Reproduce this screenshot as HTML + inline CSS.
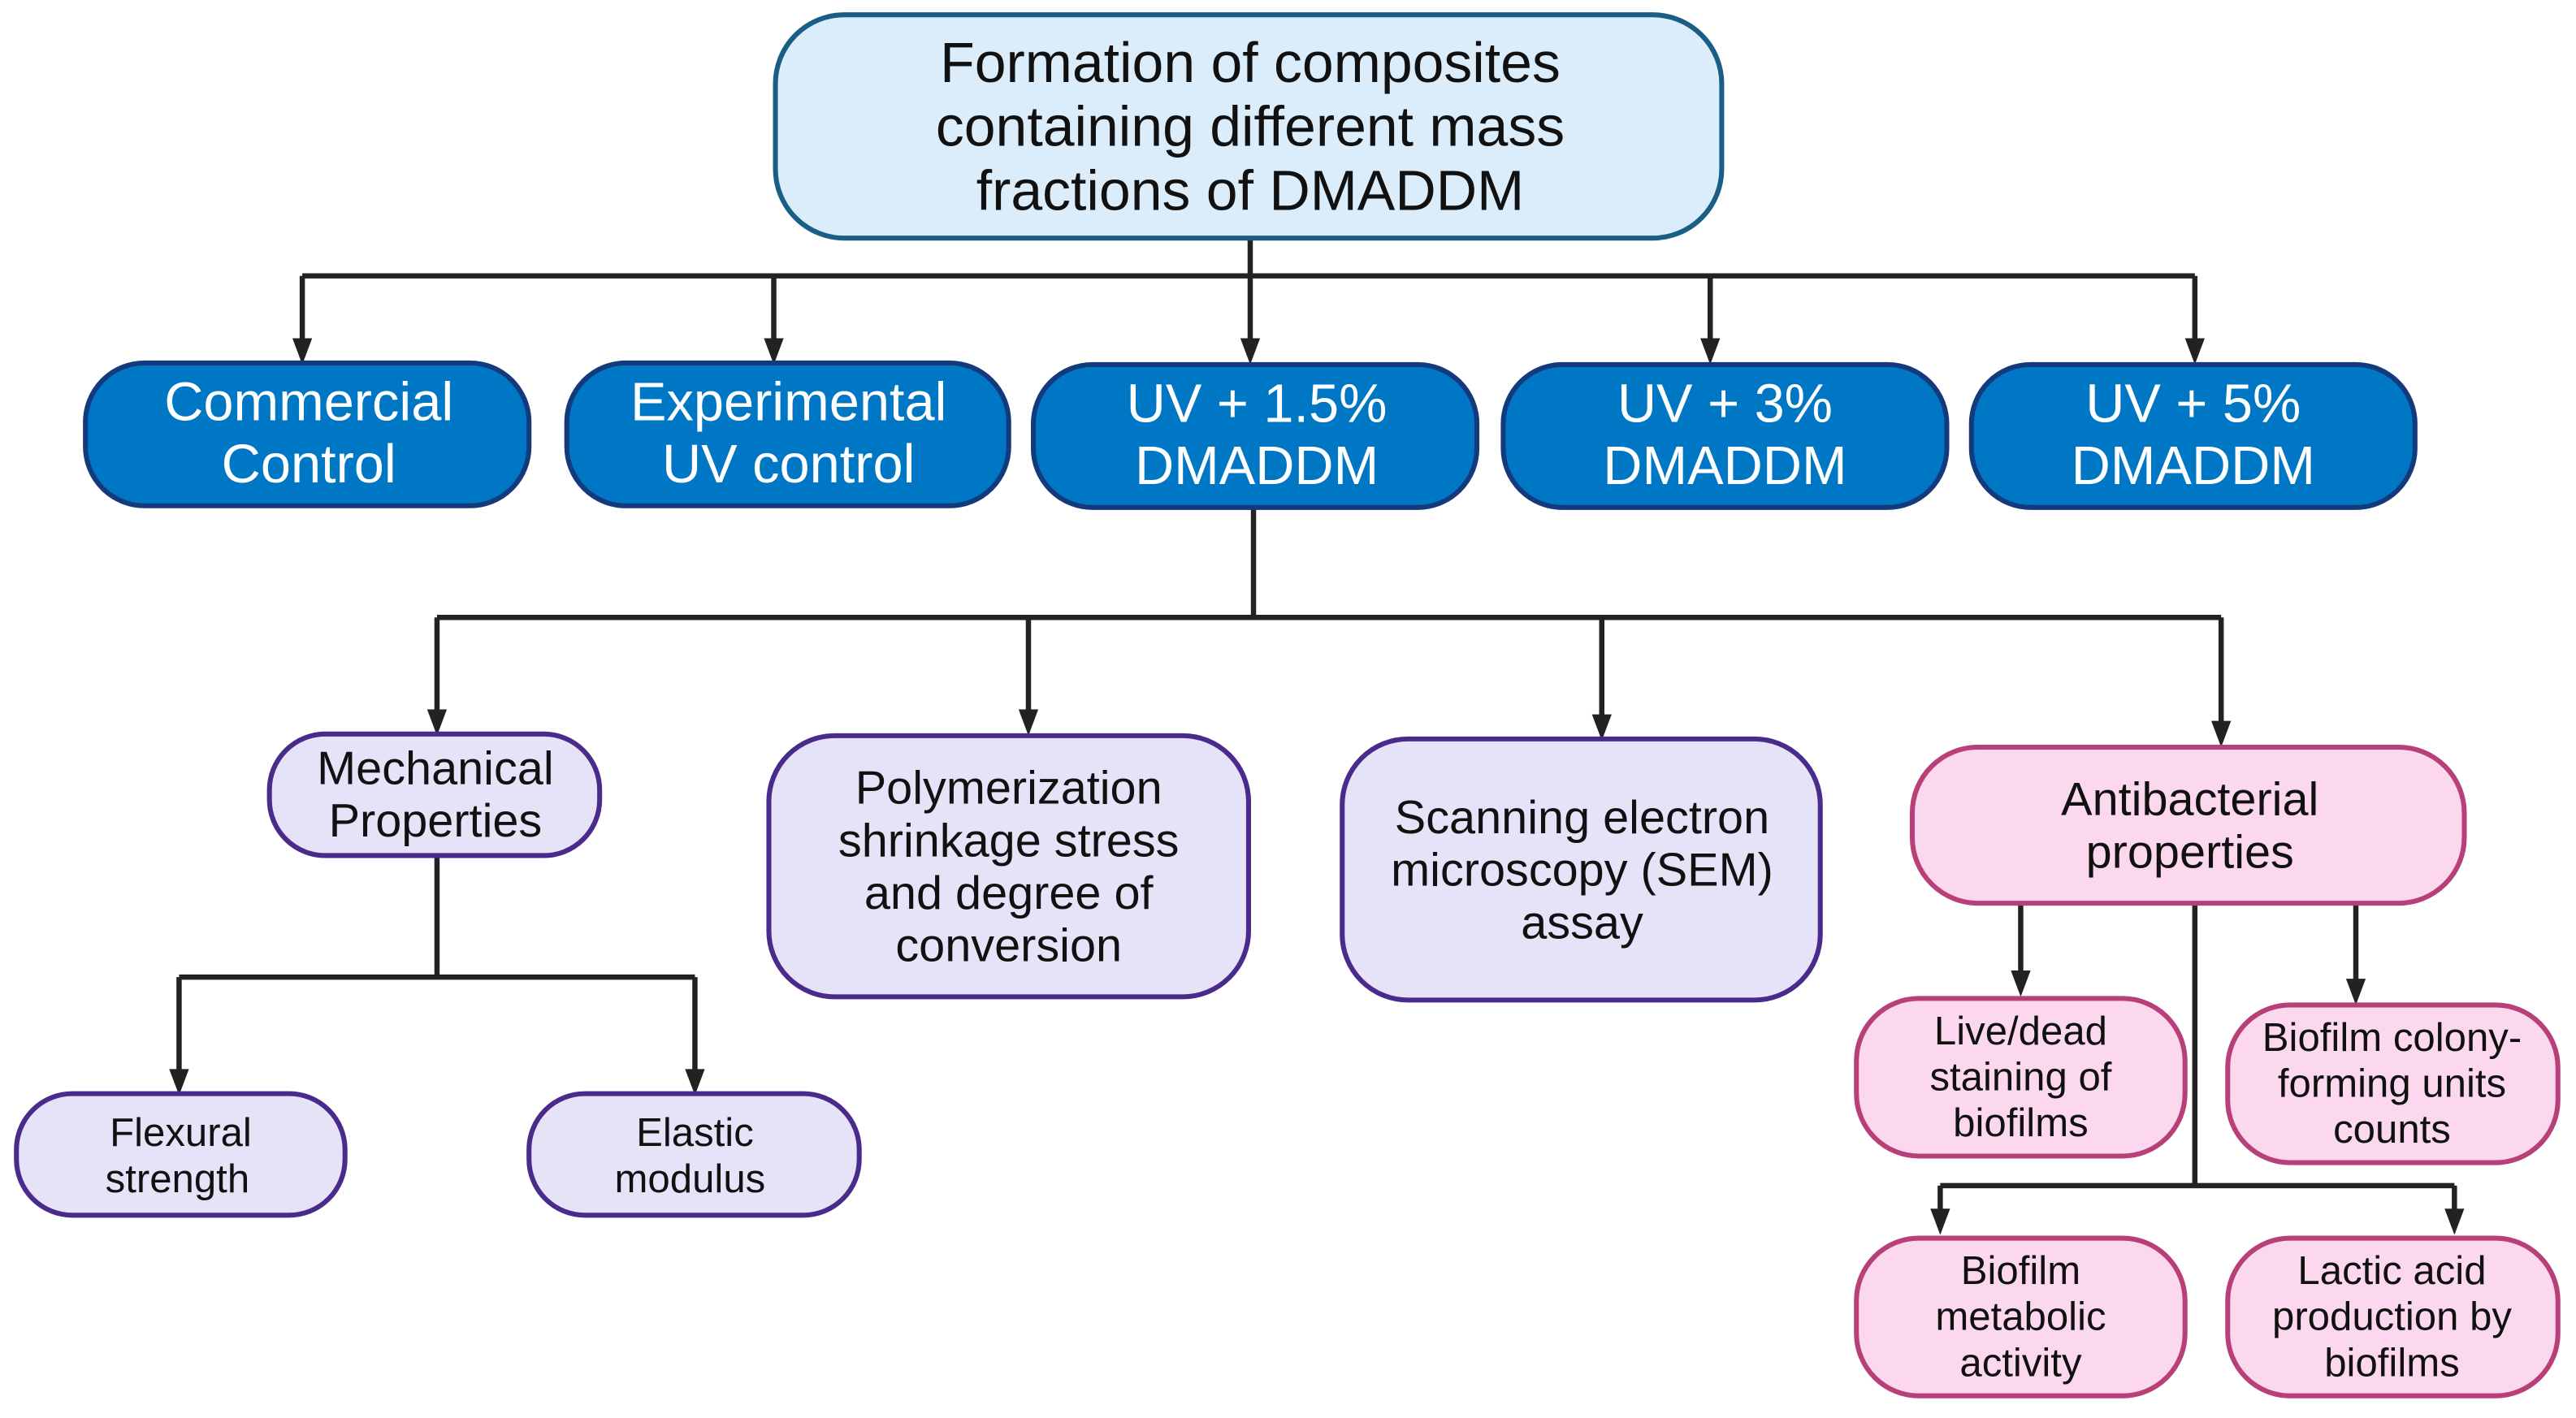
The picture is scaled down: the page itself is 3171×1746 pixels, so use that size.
<!DOCTYPE html>
<html><head><meta charset="utf-8"><style>
html,body{margin:0;padding:0;background:#fff;}
svg{display:block;}
text{font-family:"Liberation Sans",sans-serif;text-anchor:middle;dominant-baseline:central;}
</style></head><body>
<svg width="3171" height="1746" viewBox="0 0 1568 863.5" preserveAspectRatio="none" xmlns="http://www.w3.org/2000/svg">
<g stroke="#222" stroke-width="3.2" fill="none">
<path d="M761 145V168M184 168H1336"/>
<path d="M184 168V208M471 168V208M761 168V208M1041 168V208M1336 168V208"/>
<path d="M763 308V376M266 376H1352"/>
<path d="M266 376V434M626 376V434M975 376V437M1352 376V441"/>
<path d="M266 521V595M109 595H423M109 595V653M423 595V653"/>
<path d="M1230 550V593M1434 550V598M1336 550V722M1181 722H1494M1181 722V738M1494 722V738"/>
</g>
<g fill="#222">
<path d="M178 206h12l-6 16z"/><path d="M465 206h12l-6 16z"/><path d="M755 206h12l-6 16z"/><path d="M1035 206h12l-6 16z"/><path d="M1330 206h12l-6 16z"/>
<path d="M260 432h12l-6 16z"/><path d="M620 432h12l-6 16z"/><path d="M969 435h12l-6 16z"/><path d="M1346 439h12l-6 16z"/>
<path d="M103 651h12l-6 16z"/><path d="M417 651h12l-6 16z"/>
<path d="M1224 591h12l-6 16z"/><path d="M1428 596h12l-6 16z"/>
<path d="M1175 736h12l-6 16z"/><path d="M1488 736h12l-6 16z"/>
</g>
<rect x="472" y="9" width="576" height="136" rx="42" fill="#dbecfa" stroke="#1a5e86" stroke-width="3"/>
<g font-size="34.5" fill="#111">
<text x="761" y="38">Formation of composites</text>
<text x="761" y="77">containing different mass</text>
<text x="761" y="116">fractions of DMADDM</text>
</g>
<g fill="#0077c4" stroke="#133a7c" stroke-width="3">
<rect x="52" y="221" width="270" height="87" rx="36"/>
<rect x="345" y="221" width="269" height="87" rx="36"/>
<rect x="629" y="222" width="270" height="87" rx="36"/>
<rect x="915" y="222" width="270" height="87" rx="36"/>
<rect x="1200" y="222" width="270" height="87" rx="36"/>
</g>
<g font-size="33" fill="#fff">
<text x="188" y="245">Commercial</text><text x="188" y="283">Control</text>
<text x="480" y="245">Experimental</text><text x="480" y="283">UV control</text>
<text x="765" y="246">UV + 1.5%</text><text x="765" y="284">DMADDM</text>
<text x="1050" y="246">UV + 3%</text><text x="1050" y="284">DMADDM</text>
<text x="1335" y="246">UV + 5%</text><text x="1335" y="284">DMADDM</text>
</g>
<g fill="#e6e2f7" stroke="#4a2a8a" stroke-width="3">
<rect x="164" y="447" width="201" height="74" rx="34"/>
<rect x="468" y="448" width="292" height="159" rx="40"/>
<rect x="817" y="450" width="291" height="159" rx="40"/>
<rect x="10" y="666" width="200" height="74" rx="34"/>
<rect x="322" y="666" width="201" height="74" rx="34"/>
</g>
<g fill="#fcd8ee" stroke="#b8407a" stroke-width="3">
<rect x="1164" y="455" width="336" height="95" rx="40"/>
<rect x="1130" y="608" width="200" height="96" rx="38"/>
<rect x="1356" y="612" width="201" height="96" rx="38"/>
<rect x="1130" y="754" width="200" height="96" rx="38"/>
<rect x="1356" y="754" width="201" height="96" rx="38"/>
</g>
<g font-size="28.5" fill="#111">
<text x="265" y="468">Mechanical</text><text x="265" y="500">Properties</text>
<text x="614" y="480">Polymerization</text><text x="614" y="512">shrinkage stress</text><text x="614" y="544">and degree of</text><text x="614" y="576">conversion</text>
<text x="963" y="498">Scanning electron</text><text x="963" y="530">microscopy (SEM)</text><text x="963" y="562">assay</text>
<text x="1333" y="487">Antibacterial</text><text x="1333" y="519">properties</text>
</g>
<g font-size="24.3" fill="#111">
<text x="110" y="690">Flexural</text><text x="108" y="718">strength</text>
<text x="423" y="690">Elastic</text><text x="420" y="718">modulus</text>
<text x="1230" y="628">Live/dead</text><text x="1230" y="656">staining of</text><text x="1230" y="684">biofilms</text>
<text x="1456" y="632">Biofilm colony-</text><text x="1456" y="660">forming units</text><text x="1456" y="688">counts</text>
<text x="1230" y="774">Biofilm</text><text x="1230" y="802">metabolic</text><text x="1230" y="830">activity</text>
<text x="1456" y="774">Lactic acid</text><text x="1456" y="802">production by</text><text x="1456" y="830">biofilms</text>
</g>
</svg>
</body></html>
